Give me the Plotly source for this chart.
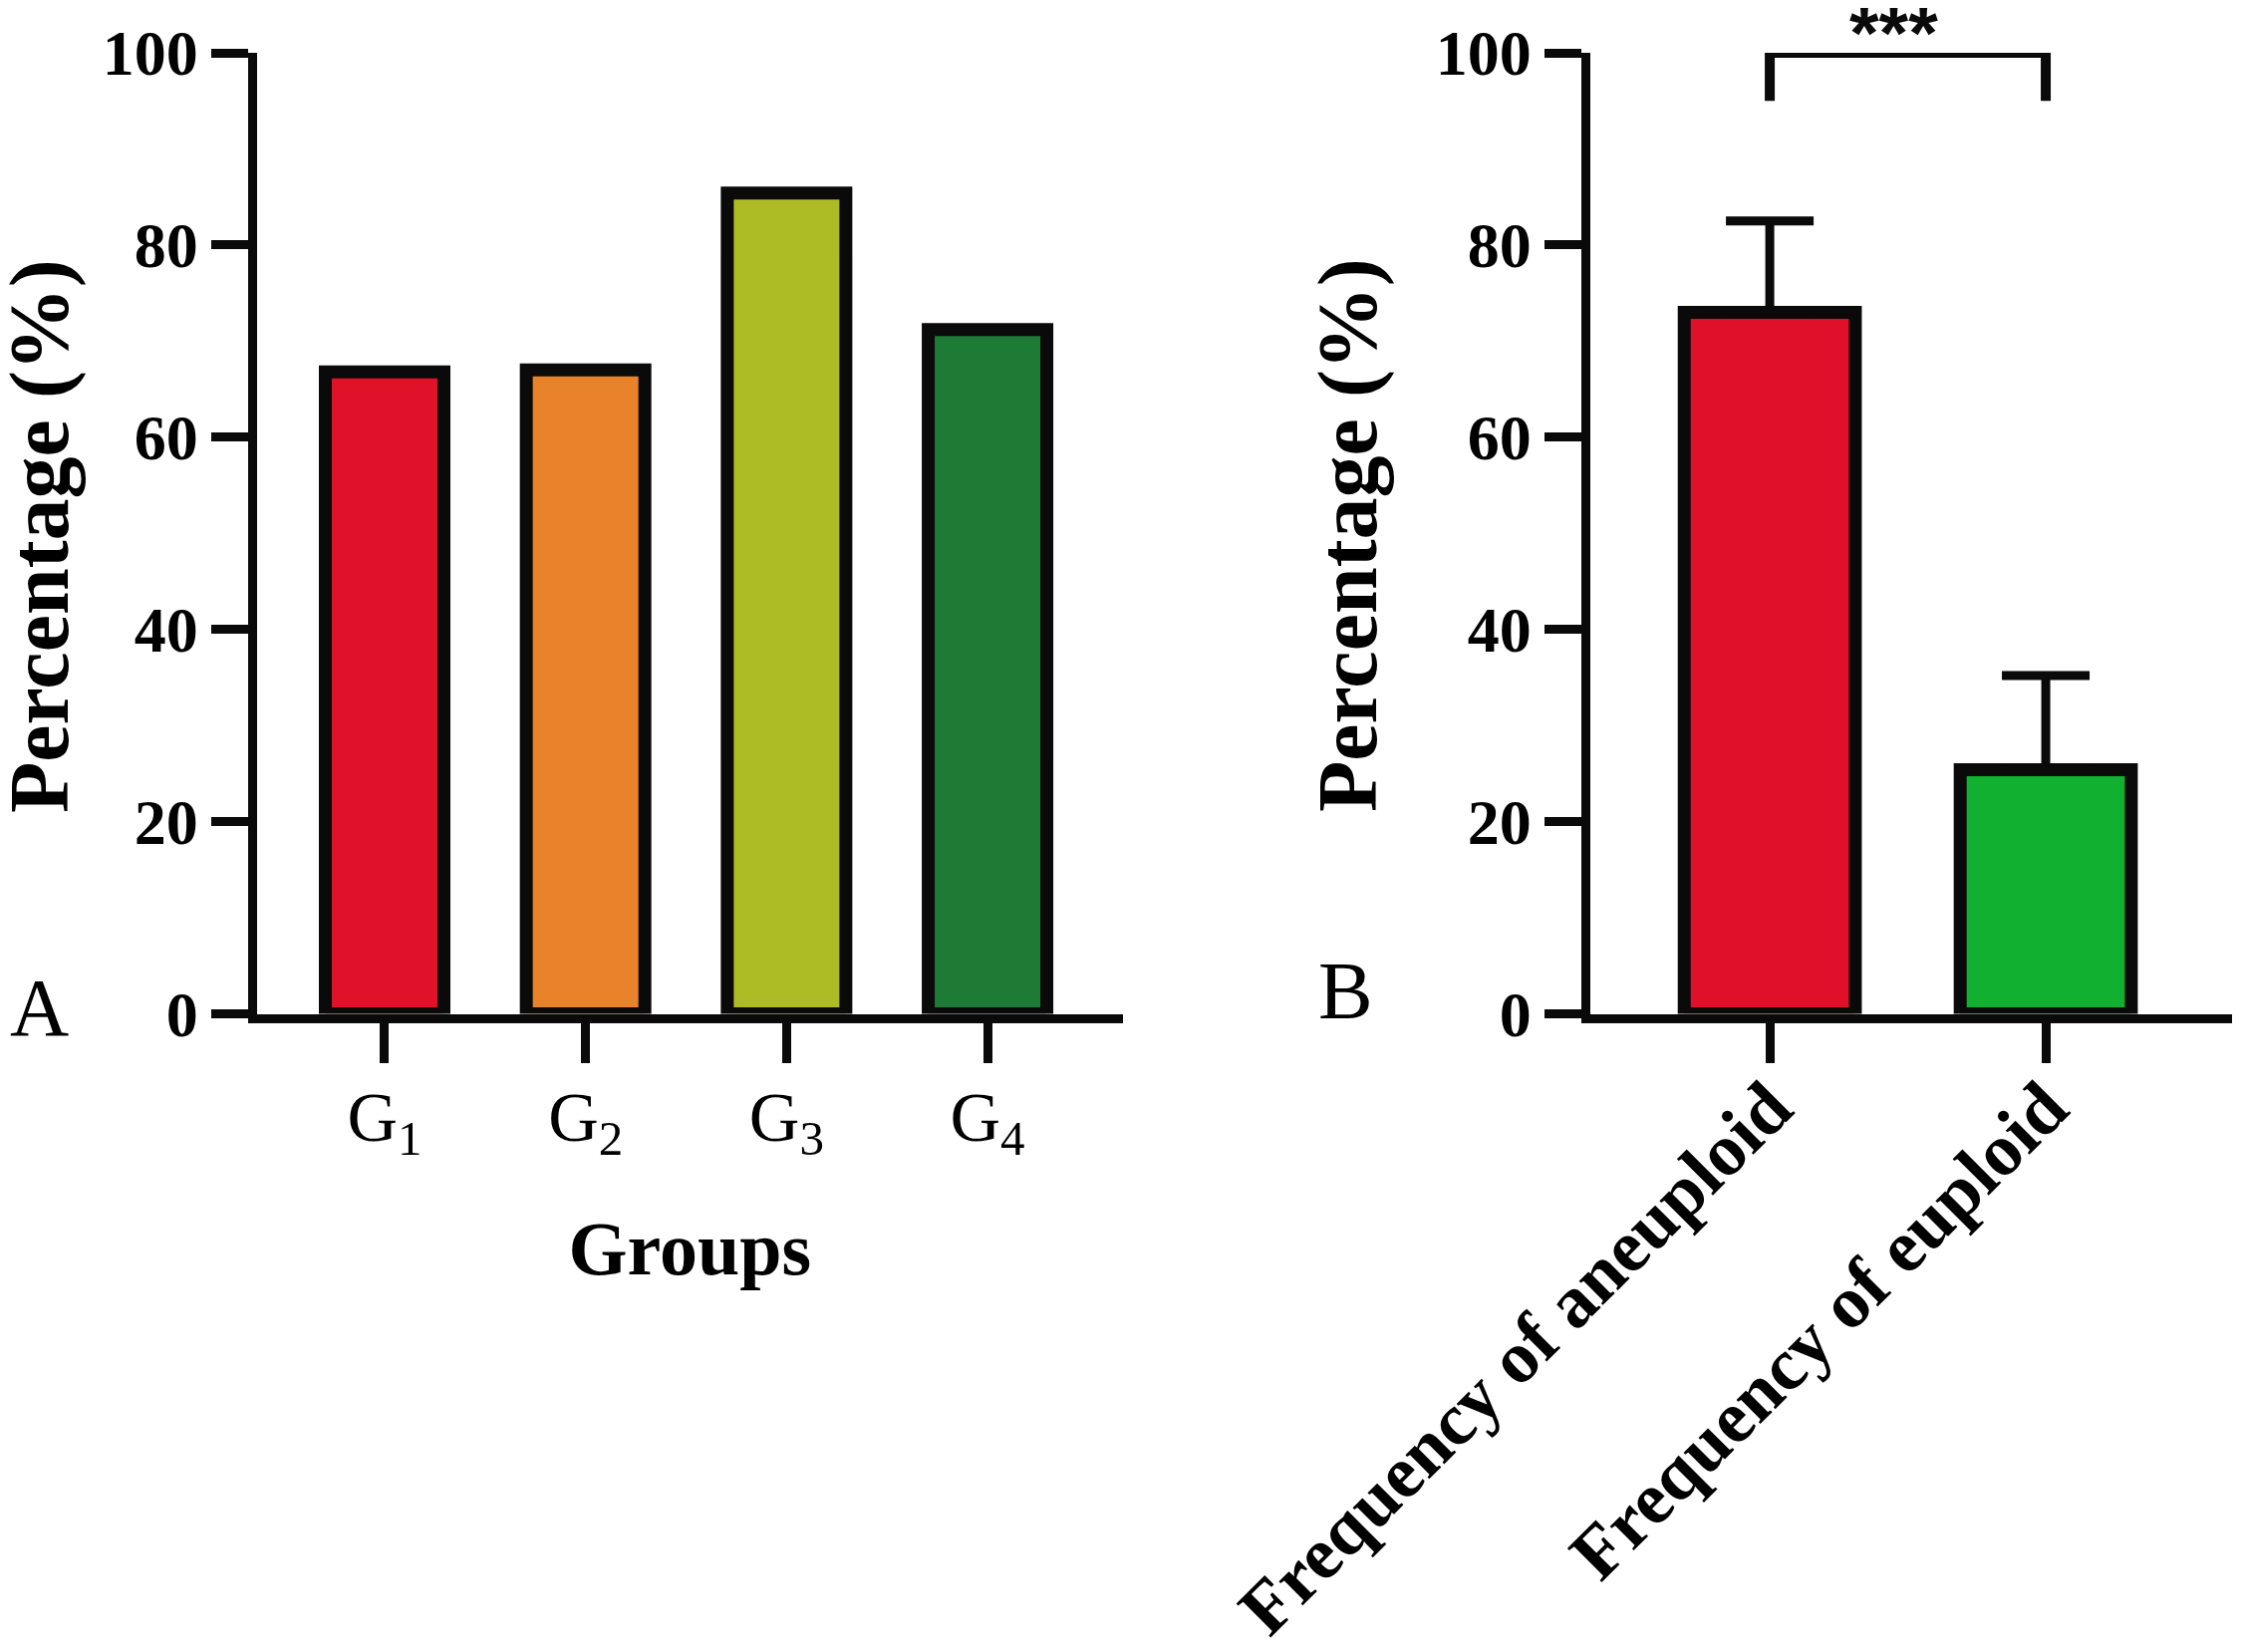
"""Two-panel bar figure: group percentages (A) and aneuploid vs euploid frequency (B)."""
import plotly.graph_objects as go
from plotly.subplots import make_subplots

# panel A
groups = ["G1", "G2", "G3", "G4"]
group_labels = ["G<sub>1</sub>", "G<sub>2</sub>", "G<sub>3</sub>", "G<sub>4</sub>"]
group_pct = [66.8, 67.0, 85.4, 71.2]
group_colors = ["#E0122A", "#E8832B", "#ADBC24", "#1E7B36"]

# panel B
ploidy = ["Frequency of aneuploid", "Frequency of euploid"]
ploidy_pct = [73.0, 25.4]
ploidy_err = [9.5, 9.8]
ploidy_colors = ["#E0102A", "#12B030"]
bracket_y = [95, 100, 100, 95]
y_ticks = [0, 20, 40, 60, 80, 100]

SERIF = "Liberation Serif"
W, H = 2252, 1658


def main() -> None:
    fig = make_subplots(rows=1, cols=2)

    fig.add_trace(go.Bar(x=groups, y=group_pct, width=0.59,
                         marker=dict(color=group_colors,
                                     line=dict(color="#0a0a0a", width=13)),
                         showlegend=False), row=1, col=1)
    fig.add_trace(go.Bar(x=ploidy, y=ploidy_pct, width=0.62,
                         marker=dict(color=ploidy_colors,
                                     line=dict(color="#0a0a0a", width=13)),
                         error_y=dict(type="data", array=ploidy_err,
                                      arrayminus=[0] * len(ploidy_err),
                                      symmetric=False, color="#0a0a0a",
                                      thickness=9, width=44),
                         showlegend=False), row=1, col=2)
    # significance bracket between the two bars
    fig.add_trace(go.Scatter(x=[ploidy[0], ploidy[0], ploidy[1], ploidy[1]],
                             y=bracket_y, mode="lines", cliponaxis=False,
                             line=dict(color="#0a0a0a", width=10),
                             showlegend=False, hoverinfo="skip"), row=1, col=2)

    ydom = [(H - 1009.5) / H, (H - 45) / H]
    axis_common = dict(showline=True, linecolor="#0a0a0a", linewidth=9,
                       ticks="outside", tickwidth=9, tickcolor="#0a0a0a",
                       showgrid=False, zeroline=False, automargin=False)

    fig.update_xaxes(axis_common, ticklen=40)
    fig.update_yaxes(axis_common, ticklen=37, range=[0, 100],
                     tickvals=y_ticks, domain=ydom,
                     tickfont=dict(family=SERIF, size=64, color="black",
                                   weight="bold"))

    fig.update_xaxes(row=1, col=1, domain=[249.5 / W, 1119 / W],
                     range=[-0.637, 3.674], tickvals=groups,
                     ticktext=group_labels, ticklabelstandoff=-6,
                     tickfont=dict(family=SERIF, size=70, color="black"),
                     title=dict(text="Groups", standoff=60,
                                font=dict(family=SERIF, size=76, color="black",
                                          weight="bold")))
    fig.update_xaxes(row=1, col=2, domain=[1587.5 / W, 2232 / W],
                     range=[-0.652, 1.675], tickangle=-45,
                     ticklabelstandoff=-28,
                     tickfont=dict(family=SERIF, size=74, color="black",
                                   weight="bold"))

    # y titles as rotated annotations so they sit where the reference has them
    title_font = dict(family=SERIF, size=84, color="black", weight="bold")
    for x_px, y_px in ((32, 530), (1345, 529)):
        fig.add_annotation(x=x_px / W, y=(H - y_px) / H, xref="paper",
                           yref="paper", text="Percentage (%)", textangle=-90,
                           showarrow=False, xanchor="center", yanchor="middle",
                           font=title_font)

    fig.add_annotation(x=0.45, y=100, xref="x2", yref="y2", text="***",
                       showarrow=False, yanchor="middle", yshift=21,
                       font=dict(family="Liberation Sans", size=76,
                                 color="#0a0a0a", weight="bold"))
    fig.add_annotation(x=0, y=(H - 1004) / H, xref="paper", yref="paper",
                       text="A", showarrow=False, xanchor="left",
                       yanchor="middle",
                       font=dict(family=SERIF, size=82, color="black"))
    fig.add_annotation(x=1313 / W, y=(H - 986) / H, xref="paper", yref="paper",
                       text="B", showarrow=False, xanchor="left",
                       yanchor="middle",
                       font=dict(family=SERIF, size=82, color="black"))

    fig.update_layout(width=W, height=H, margin=dict(l=0, r=0, t=0, b=0),
                      paper_bgcolor="white", plot_bgcolor="white",
                      bargap=0.4)
    fig.write_html("out.html")


if __name__ == "__main__":
    main()
